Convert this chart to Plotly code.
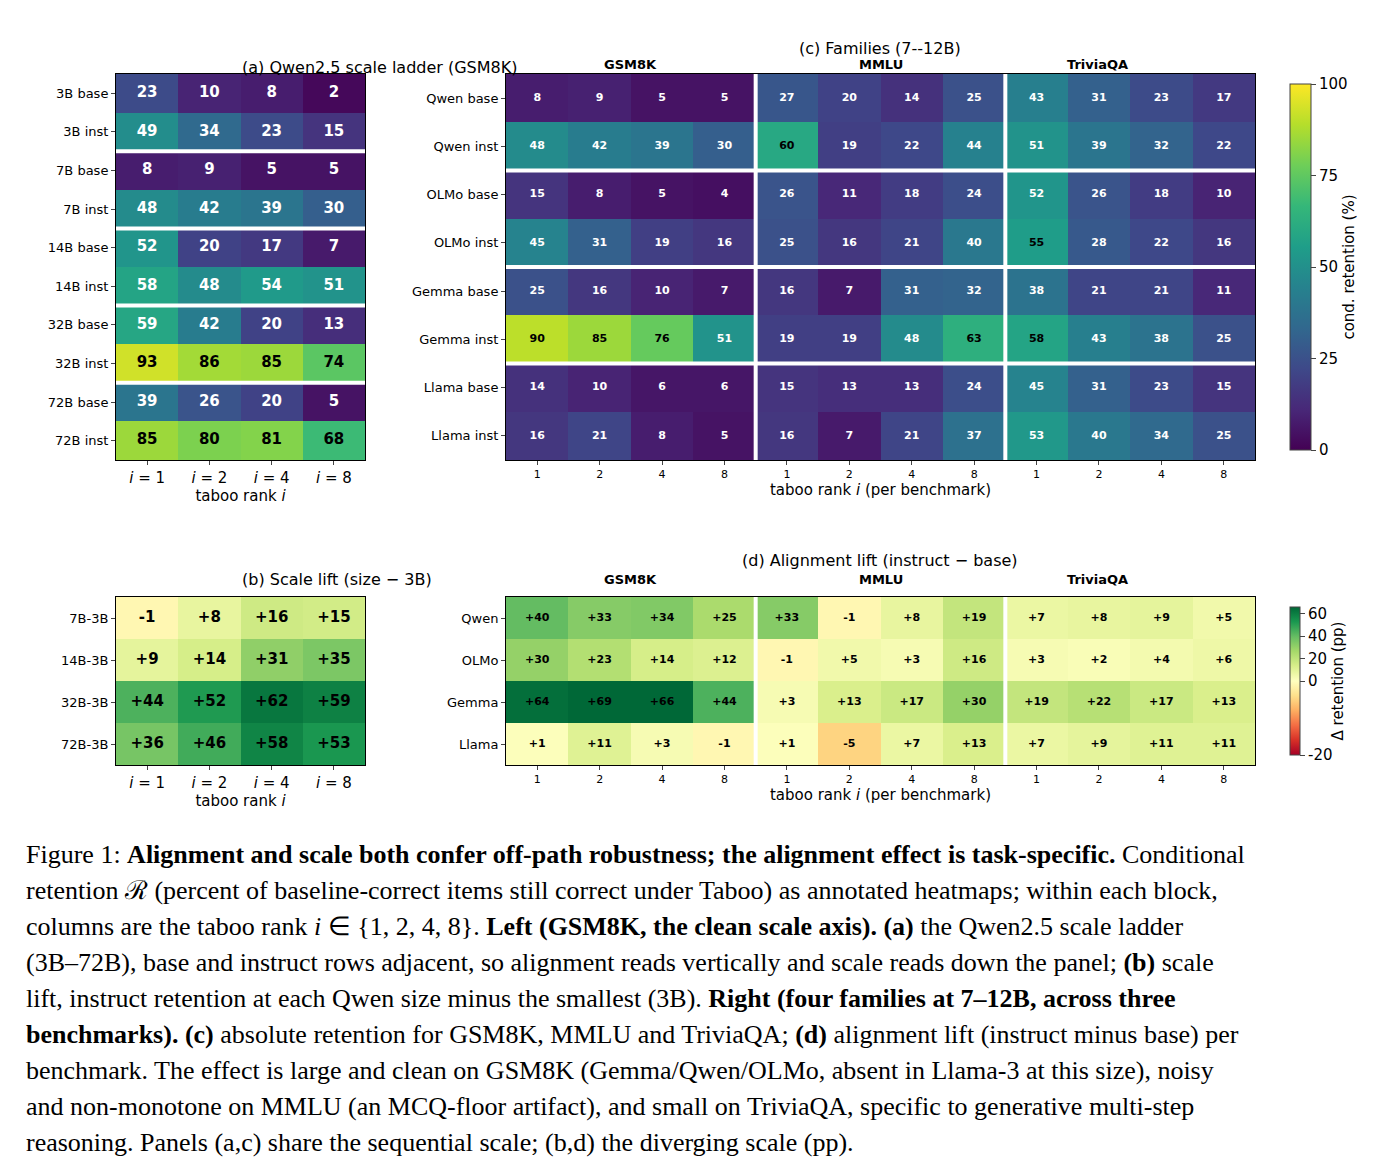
import plotly.graph_objects as go

# %% data
taboo = ["1", "2", "4", "8"]
benchmarks = ["GSM8K", "MMLU", "TriviaQA"]

a_rows = ["3B base", "3B inst", "7B base", "7B inst", "14B base", "14B inst",
          "32B base", "32B inst", "72B base", "72B inst"]
a_vals = [[23, 10, 8, 2], [49, 34, 23, 15], [8, 9, 5, 5], [48, 42, 39, 30],
          [52, 20, 17, 7], [58, 48, 54, 51], [59, 42, 20, 13], [93, 86, 85, 74],
          [39, 26, 20, 5], [85, 80, 81, 68]]

b_rows = ["7B-3B", "14B-3B", "32B-3B", "72B-3B"]
b_vals = [[-1, 8, 16, 15], [9, 14, 31, 35], [44, 52, 62, 59], [36, 46, 58, 53]]

c_rows = ["Qwen base", "Qwen inst", "OLMo base", "OLMo inst",
          "Gemma base", "Gemma inst", "Llama base", "Llama inst"]
c_vals = [[8, 9, 5, 5, 27, 20, 14, 25, 43, 31, 23, 17],
          [48, 42, 39, 30, 60, 19, 22, 44, 51, 39, 32, 22],
          [15, 8, 5, 4, 26, 11, 18, 24, 52, 26, 18, 10],
          [45, 31, 19, 16, 25, 16, 21, 40, 55, 28, 22, 16],
          [25, 16, 10, 7, 16, 7, 31, 32, 38, 21, 21, 11],
          [90, 85, 76, 51, 19, 19, 48, 63, 58, 43, 38, 25],
          [14, 10, 6, 6, 15, 13, 13, 24, 45, 31, 23, 15],
          [16, 21, 8, 5, 16, 7, 21, 37, 53, 40, 34, 25]]

d_rows = ["Qwen", "OLMo", "Gemma", "Llama"]
d_vals = [[40, 33, 34, 25, 33, -1, 8, 19, 7, 8, 9, 5],
          [30, 23, 14, 12, -1, 5, 3, 16, 3, 2, 4, 6],
          [64, 69, 66, 44, 3, 13, 17, 30, 19, 22, 17, 13],
          [1, 11, 3, -1, 1, -5, 7, 13, 7, 9, 11, 11]]

caption = [
    "Figure 1: <b>Alignment and scale both confer off-path robustness; the alignment effect is task-specific.</b> Conditional",
    "retention ℛ (percent of baseline-correct items still correct under Taboo) as annotated heatmaps; within each block,",
    "columns are the taboo rank <i>i</i> ∈ {1, 2, 4, 8}. <b>Left (GSM8K, the clean scale axis).</b> <b>(a)</b> the Qwen2.5 scale ladder",
    "(3B–72B), base and instruct rows adjacent, so alignment reads vertically and scale reads down the panel; <b>(b)</b> scale",
    "lift, instruct retention at each Qwen size minus the smallest (3B). <b>Right (four families at 7–12B, across three</b>",
    "<b>benchmarks).</b> <b>(c)</b> absolute retention for GSM8K, MMLU and TriviaQA; <b>(d)</b> alignment lift (instruct minus base) per",
    "benchmark. The effect is large and clean on GSM8K (Gemma/Qwen/OLMo, absent in Llama-3 at this size), noisy",
    "and non-monotone on MMLU (an MCQ-floor artifact), and small on TriviaQA, specific to generative multi-step",
    "reasoning. Panels (a,c) share the sequential scale; (b,d) the diverging scale (pp).",
]

W, H = 1396, 1165
FONT = "DejaVu Sans"
VMIN, VMAX = -20, 66


def px(x0, x1):
    return [x0 / W, x1 / W]


def py(y0, y1):
    return [1 - y1 / H, 1 - y0 / H]


def dnorm(v):
    return 0.5 + 0.5 * max(v, VMIN) / -VMIN if v < 0 else 0.5 + 0.5 * min(v, VMAX) / VMAX


fig = go.Figure()

panels = [
    # name, rows, vals, xdom, ydom, diverging, fontsize, black threshold
    ("", a_rows, a_vals, px(108, 357), py(66, 452), False, 15, 65),
    ("2", b_rows, b_vals, px(108, 357), py(589, 757), True, 15, None),
    ("3", c_rows, c_vals, px(498, 1247), py(66, 452), False, 11, 55),
    ("4", d_rows, d_vals, px(498, 1247), py(589, 757), True, 11, None),
]

for n, rows, vals, xd, yd, div, fs, thr in panels:
    ncol = len(vals[0])
    xs = list(range(ncol))
    ys = list(range(len(rows)))
    if div:
        z = [[dnorm(v) for v in r] for r in vals]
        hm = dict(colorscale="RdYlGn", zmin=0, zmax=1)
        txt = [[("+%d" % v if v > 0 else "%d" % v) for v in r] for r in vals]
        cols = [["black"] * ncol for r in vals]
    else:
        z = vals
        hm = dict(colorscale="Viridis", zmin=0, zmax=100)
        txt = [[str(v) for v in r] for r in vals]
        cols = [["black" if v >= thr else "white" for v in r] for r in vals]
    show = n in ("3", "4")
    cb = None
    if n == "3":
        cb = dict(x=1272 / W, xanchor="left", y=1 - 66 / H, yanchor="top",
                  len=386, lenmode="pixels", thickness=21, outlinewidth=1,
                  ticks="outside", tickvals=[0, 25, 50, 75, 100],
                  tickfont=dict(size=15, family=FONT),
                  title=dict(text="cond. retention (%)", side="right",
                             font=dict(size=15, family=FONT)))
    if n == "4":
        cb = dict(x=1272 / W, xanchor="left", y=1 - 589 / H, yanchor="top",
                  len=168, lenmode="pixels", thickness=10, outlinewidth=1,
                  ticks="outside", tickvals=[dnorm(t) for t in [-20, 0, 20, 40, 60]],
                  ticktext=["-20", "0", "20", "40", "60"],
                  tickfont=dict(size=15, family=FONT),
                  title=dict(text="Δ retention (pp)", side="right",
                             font=dict(size=15, family=FONT)))
    fig.add_trace(go.Heatmap(z=z, x=xs, y=ys, xaxis="x" + n, yaxis="y" + n,
                             showscale=show, colorbar=cb, hoverinfo="skip", **hm))
    tx, ty, tt, tc = [], [], [], []
    for i, r in enumerate(txt):
        for j, t in enumerate(r):
            tx.append(j); ty.append(i); tt.append("<b>%s</b>" % t); tc.append(cols[i][j])
    fig.add_trace(go.Scatter(x=tx, y=ty, text=tt, mode="text", xaxis="x" + n, yaxis="y" + n,
                             textfont=dict(size=fs, color=tc, family=FONT),
                             showlegend=False, hoverinfo="skip"))

    if ncol == 4:
        tickt = ["<i>i</i> = %s" % t for t in taboo]
        xtitle = "taboo rank <i>i</i>"
        tfs = 15
    else:
        tickt = taboo * 3
        xtitle = "taboo rank <i>i</i> (per benchmark)"
        tfs = 11
    fig.update_layout(**{
        "xaxis" + n: dict(domain=xd, anchor="y" + n, tickvals=xs, ticktext=tickt,
                          range=[-0.5, ncol - 0.5], ticks="outside", ticklen=4,
                          showgrid=False, zeroline=False, showline=True, mirror=True,
                          linecolor="black", linewidth=1,
                          tickfont=dict(size=tfs, family=FONT),
                          title=dict(text=xtitle, font=dict(size=15, family=FONT), standoff=4)),
        "yaxis" + n: dict(domain=yd, anchor="x" + n, tickvals=ys, ticktext=rows,
                          range=[len(rows) - 0.5, -0.5], ticks="outside", ticklen=4,
                          showgrid=False, zeroline=False, showline=True, mirror=True,
                          linecolor="black", linewidth=1,
                          tickfont=dict(size=13, family=FONT)),
    })

    # white separators
    xr, yr = "x" + n, "y" + n
    if n == "":
        xr, yr = "x", "y"
    if n in ("", "3"):
        for k in range(2, len(rows), 2):
            fig.add_shape(type="line", xref=xr, yref=yr, x0=-0.5, x1=ncol - 0.5,
                          y0=k - 0.5, y1=k - 0.5, line=dict(color="white", width=4))
    if ncol == 12:
        for k in (4, 8):
            fig.add_shape(type="line", xref=xr, yref=yr, x0=k - 0.5, x1=k - 0.5,
                          y0=-0.5, y1=len(rows) - 0.5, line=dict(color="white", width=4))

# titles and group headers
ann = [
    ("(a) Qwen2.5 scale ladder (GSM8K)", 232, 48, False),
    ("(b) Scale lift (size − 3B)", 232, 571, False),
    ("(c) Families (7--12B)", 872, 29, False),
    ("(d) Alignment lift (instruct − base)", 872, 552, False),
]
for k, b in enumerate(benchmarks):
    cx = 498 + 749 * (2 * k + 1) / 6
    ann.append((b, cx, 47, True))
    ann.append((b, cx, 571, True))
for t, x, y, bold in ann:
    fig.add_annotation(text=("<b>%s</b>" % t) if bold else t, x=x / W, y=1 - y / H,
                       xref="paper", yref="paper", showarrow=False,
                       font=dict(size=13 if bold else 16, family=FONT, color="black"))

for k, line in enumerate(caption):
    fig.add_annotation(text=line, x=16 / W, y=1 - (846 + 36 * k) / H, xref="paper", yref="paper",
                       xanchor="left", yanchor="middle", showarrow=False,
                       font=dict(size=26, family="Liberation Serif", color="black"))

fig.update_layout(width=W, height=H, margin=dict(l=0, r=0, t=0, b=0),
                  plot_bgcolor="white", paper_bgcolor="white", showlegend=False,
                  font=dict(family=FONT, color="black"))

fig.write_html("out.html")
